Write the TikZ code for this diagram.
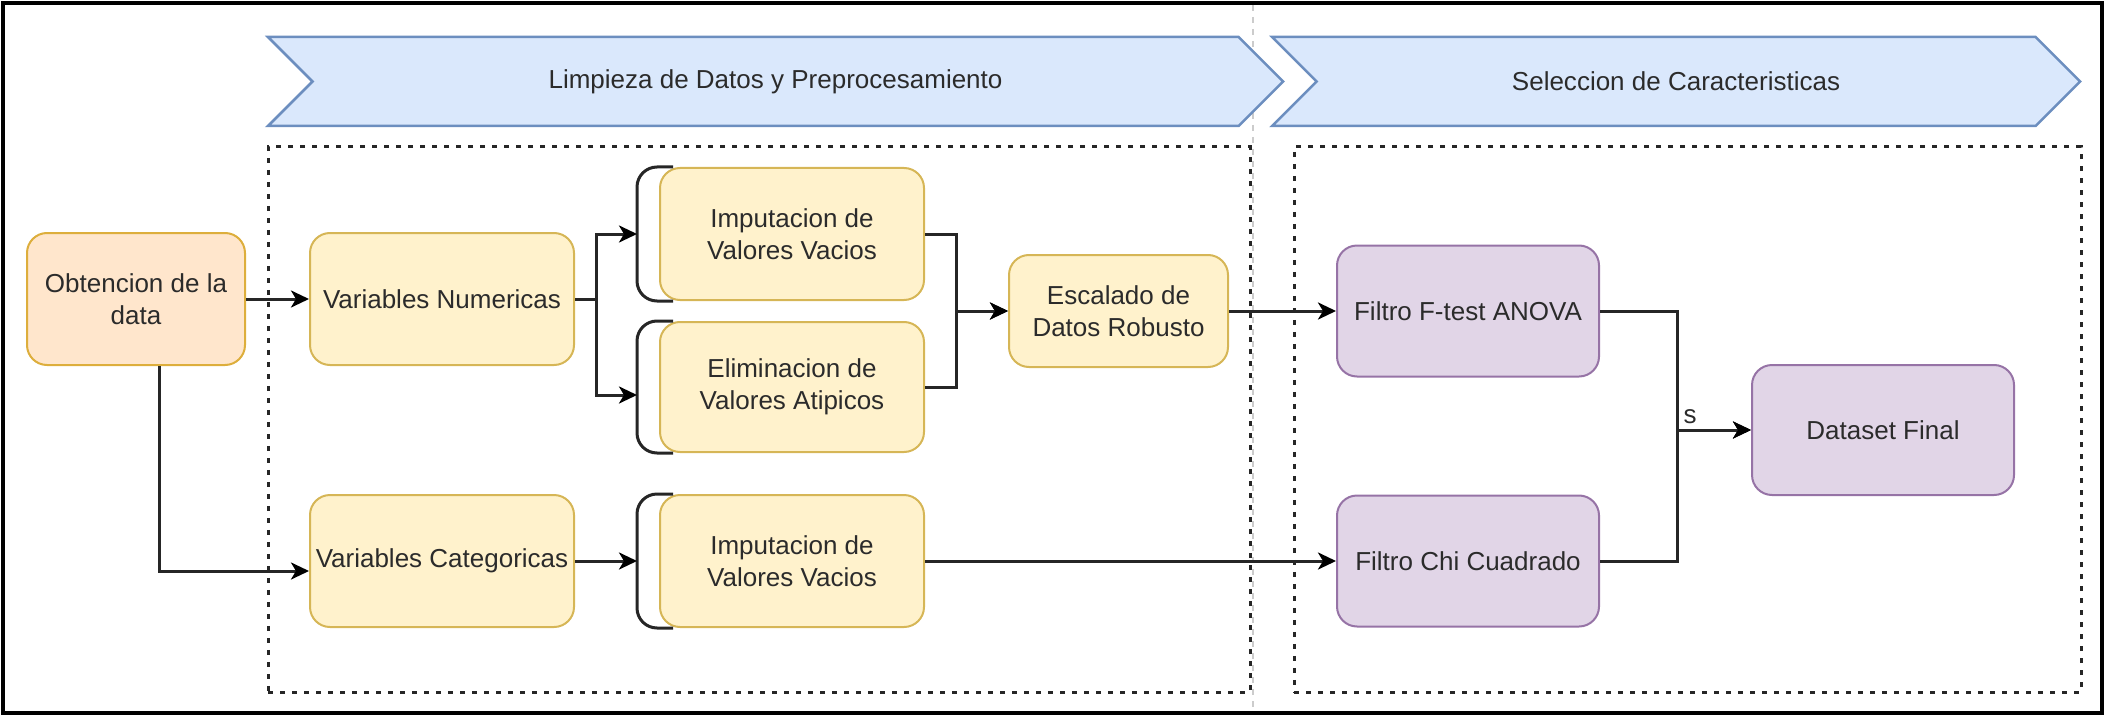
\documentclass[tikz,border=0pt]{standalone}
\usepackage{fontspec}
\setsansfont{Liberation Sans}
\usetikzlibrary{arrows.meta}
\usetikzlibrary{shapes.symbols}

\definecolor{peachFill}{HTML}{FFE6CC}
\definecolor{peachLine}{HTML}{DDAE3C}
\definecolor{yellowFill}{HTML}{FFF2CC}
\definecolor{yellowLine}{HTML}{D6B656}
\definecolor{purpleFill}{HTML}{E1D5E7}
\definecolor{purpleLine}{HTML}{9673A6}
\definecolor{blueFill}{HTML}{DAE8FC}
\definecolor{blueLine}{HTML}{6C8EBF}
\definecolor{textGray}{HTML}{2B2B2B}
\definecolor{lineGray}{HTML}{262626}

\begin{document}
\begin{tikzpicture}[x = 1cm, y = -1cm, font=\sffamily\fontsize{7.4}{9.1}\selectfont]
	\tikzstyle{boxStyle}=[shape = rectangle, rounded corners = 0.2cm, align = center, text = textGray, line width = 0.2mm, inner sep = 1pt, minimum width = 2.64cm, minimum height = 1.32cm]
	\tikzstyle{sourceStyle}=[boxStyle, draw = peachLine, fill = peachFill, minimum width = 2.18cm]
	\tikzstyle{stepStyle}=[boxStyle, draw = yellowLine, fill = yellowFill]
	\tikzstyle{filterStyle}=[boxStyle, draw = purpleLine, fill = purpleFill, minimum width = 2.62cm, minimum height = 1.31cm]
	\tikzstyle{phaseStyle}=[shape = signal, signal from = west, signal to = east, draw = blueLine, fill = blueFill, line width = 0.25mm, minimum height = 0.89cm, text = textGray]
	\tikzstyle{groupStyle}=[shape = rectangle, draw = lineGray, line width = 0.3mm, dash pattern = on 0.5mm off 0.7mm]
	\tikzstyle{linkStyle}=[draw = lineGray, line width = 0.3mm, -{Stealth[length = 1.8mm, width = 1.7mm, inset = 0.5mm, color = black]}]
	\tikzstyle{bracketStyle}=[draw = lineGray, line width = 0.3mm, rounded corners = 0.2cm]
	\useasboundingbox (0, 0) rectangle (21.05, 7.16);
	\draw[line width = 0.45mm] (0.03, 0.03) rectangle (21.02, 7.13);
	\draw[black!20, line width = 0.2mm, dash pattern = on 0.6mm off 0.6mm] (12.53, 0.05) -- (12.53, 7.11);
	% phases
	\node[phaseStyle, minimum width = 10.15cm] (limpieza) at (7.755, 0.815) {Limpieza de Datos y Preprocesamiento};
	\node[phaseStyle, minimum width = 8.08cm] (seleccion) at (16.76, 0.815) {Seleccion de Caracteristicas};
	\node[groupStyle, minimum width = 9.82cm, minimum height = 5.45cm] (grupoLimpieza) at (7.59, 4.195) {};
	\node[groupStyle, minimum width = 7.87cm, minimum height = 5.45cm] (grupoSeleccion) at (16.875, 4.195) {};
	% steps
	\node[sourceStyle] (obtencion) at (1.36, 2.99) {Obtencion de la\\data};
	\node[stepStyle] (varNum) at (4.42, 2.99) {Variables Numericas};
	\node[stepStyle] (varCat) at (4.42, 5.61) {Variables Categoricas};
	\node[stepStyle] (impNum) at (7.92, 2.34) {Imputacion de\\Valores Vacios};
	\node[stepStyle, minimum height = 1.30cm] (elimNum) at (7.92, 3.87) {Eliminacion de\\Valores Atipicos};
	\node[stepStyle] (impCat) at (7.92, 5.61) {Imputacion de\\Valores Vacios};
	\node[stepStyle, minimum width = 2.19cm, minimum height = 1.12cm] (escalado) at (11.185, 3.11) {Escalado de\\Datos Robusto};
	\node[filterStyle] (anova) at (14.68, 3.11) {Filtro F-test ANOVA};
	\node[filterStyle] (chi) at (14.68, 5.61) {Filtro Chi Cuadrado};
	\node[filterStyle, minimum height = 1.30cm] (final) at (18.83, 4.30) {Dataset Final};
	\foreach \stepNode in {impNum, elimNum, impCat}
		\draw[bracketStyle] ([xshift = 1.4mm]\stepNode.north west) -- ([xshift = -2.2mm]\stepNode.north west) -- ([xshift = -2.2mm]\stepNode.south west) -- ([xshift = 1.4mm]\stepNode.south west);
	% links
	\draw[linkStyle] (obtencion) -- (varNum);
	\draw[linkStyle] ([xshift = 2.3mm]obtencion.south) |- ([yshift = -1mm]varCat.west);
	\draw[linkStyle] (varNum.east) -- ++(0.21, 0) |- ([xshift = -2.2mm]impNum.west);
	\draw[linkStyle] (varNum.east) -- ++(0.21, 0) |- ([xshift = -2.2mm, yshift = -0.8mm]elimNum.west);
	\draw[linkStyle] (varCat) -- ([xshift = -2.2mm]impCat.west);
	\draw[linkStyle] (impNum.east) -- ++(0.31, 0) |- (escalado.west);
	\draw[linkStyle] (elimNum.east) -- ++(0.31, 0) |- (escalado.west);
	\draw[linkStyle] (escalado.east) -- (escalado.east -| anova.west);
	\draw[linkStyle] (impCat.east) -- (impCat.east -| chi.west);
	\draw[linkStyle] (anova.east) -- ++(0.77, 0) |- (final.west);
	\draw[linkStyle] (chi.east) -- ++(0.77, 0) |- node[pos = 0.5, anchor = south west, inner sep = 0.5mm, text = textGray] {s} (final.west);
\end{tikzpicture}
\end{document}
